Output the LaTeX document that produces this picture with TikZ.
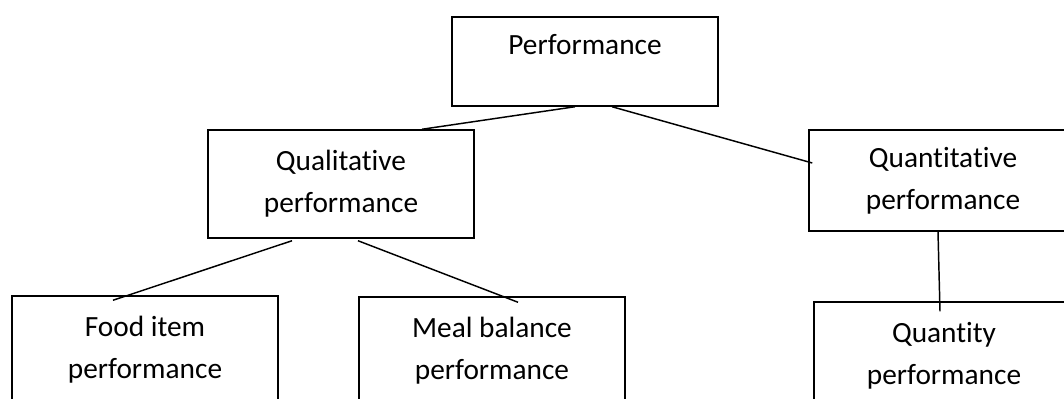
\documentclass[tikz,border=0pt]{standalone}
\usepackage{fontspec}
\setmainfont{Carlito}[Ligatures={NoCommon,NoRare,NoContextual}]
\usetikzlibrary{calc}
\begin{document}
\begin{tikzpicture}[x=0.75pt,y=-0.75pt,
  box/.style={draw=black, line width=1.1pt, align=center, inner sep=0pt,
    font=\fontsize{22}{31.5}\selectfont},
  link/.style={draw=black, line width=1.1pt}]
\clip (0,0) rectangle (1064,399);
\useasboundingbox (0,0) rectangle (1064,399);
\node[box, minimum width=199.5pt, minimum height=66.75pt, text height=14pt, text depth=23.8pt] (perf) at (585,61.5) {Performance};
\node[box, minimum width=199.5pt, minimum height=81pt] (qual) at (341,184) {Qualitative\\performance};
\node[box, minimum width=201pt, minimum height=75.75pt] (quant) at (943,180.5) {Quantitative\\performance};
\node[box, minimum width=199.5pt, minimum height=81pt] (food) at (145,350) {Food item\\performance};
\node[box, minimum width=199.5pt, minimum height=81pt] (meal) at (492,351) {Meal balance\\performance};
\node[box, minimum width=195pt, minimum height=81pt] (qty) at (944,356) {Quantity\\performance};
\draw[link] ($(perf.south)+(-10,0)$) -- ($(qual.north)+(81,0)$);
\draw[link] ($(perf.south)+(27,0)$) -- ($(quant.west)+(4,-17.5)$);
\draw[link] ($(qual.south)+(-49,2)$) -- ($(food.north)+(-32,5)$);
\draw[link] ($(qual.south)+(17,2)$) -- ($(meal.north)+(26,6)$);
\draw[link] ($(quant.south)+(-5,0)$) -- ($(qty.north)+(-4,10)$);
\end{tikzpicture}
\end{document}
